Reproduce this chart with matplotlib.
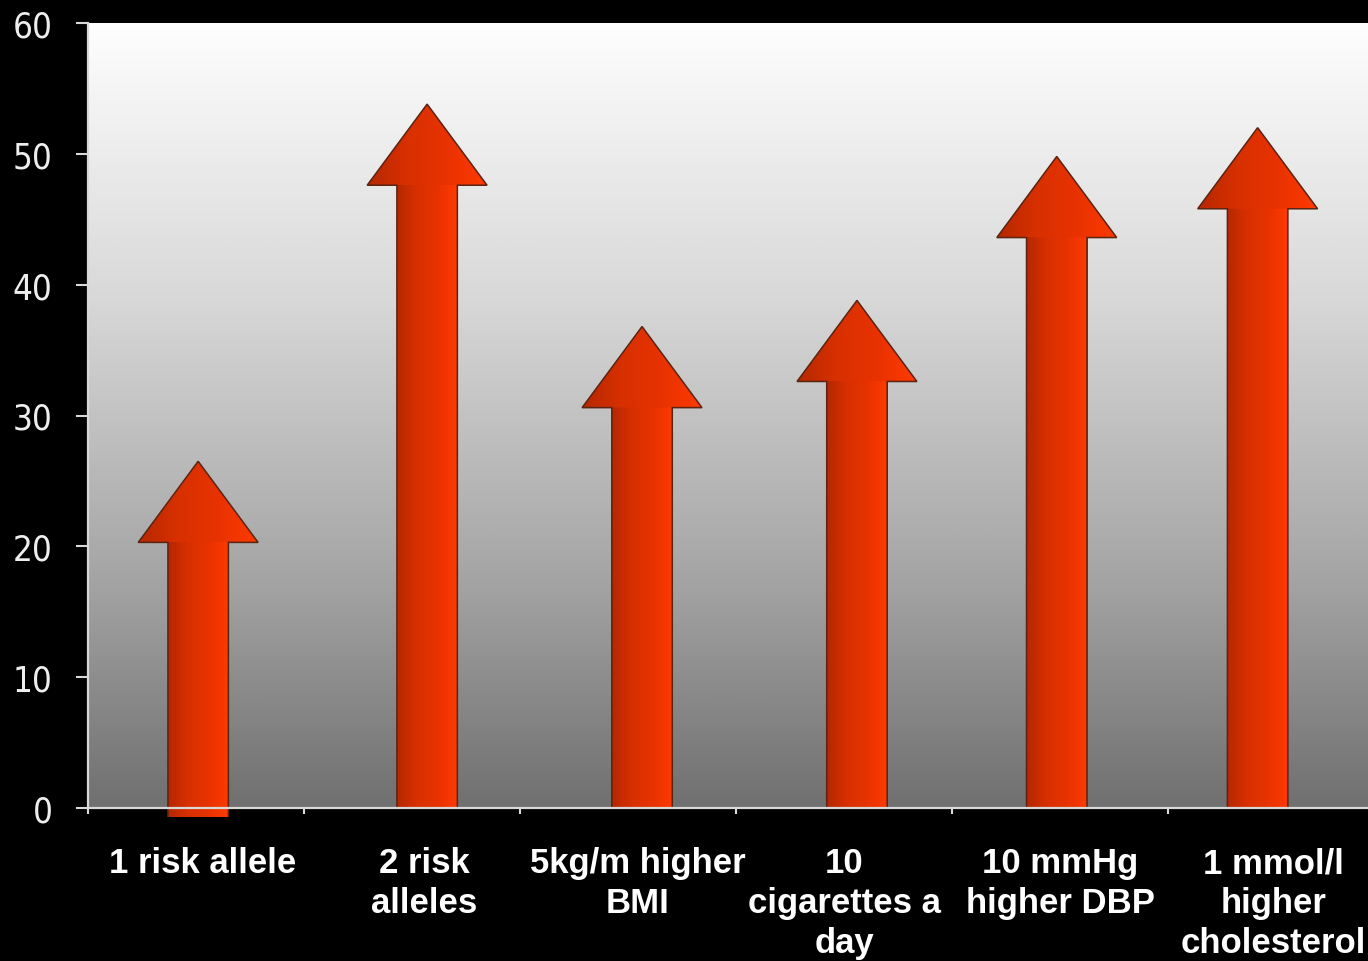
import numpy as np
import matplotlib
matplotlib.use("Agg")
import matplotlib.pyplot as plt
from matplotlib.patches import Polygon, Rectangle
from matplotlib.colors import LinearSegmentedColormap
from matplotlib.transforms import ScaledTranslation

# Data
categories = [
    "1 risk allele",
    "2 risk\nalleles",
    "5kg/m higher\nBMI",
    "10\ncigarettes a\nday",
    "10 mmHg\nhigher DBP",
    "1 mmol/l\nhigher\ncholesterol",
]
# height reached by each arrow tip
arrow_tops = [26.5, 53.8, 36.8, 38.8, 49.8, 52.0]
y_ticks = [0, 10, 20, 30, 40, 50, 60]

# Styling
arrow_shift = [0.01, 0.07, 0.065, 0.06, -0.015, -0.085]   # small horizontal nudges
label_shift_pt = [5, 9, 7, 0, 0, -2]
arrow_base = [-0.7, 0, 0, 0, 0, 0]
shaft_w = 0.28
head_w = 0.555
head_len = 6.2

fig = plt.figure(figsize=(13.68, 9.62), dpi=100, facecolor="black")
ax = fig.add_axes([88 / 1368, 1 - 809 / 962, 1280 / 1368, 785 / 962])
ax.set_facecolor("black")

xmin, xmax = -0.5, -0.5 + 1280 / 216
ymin, ymax = 0, 60

# vertical grey gradient of the plotting area (light at top)
grad = np.linspace(0, 1, 256).reshape(-1, 1)
bg_cmap = LinearSegmentedColormap.from_list(
    "bg", [(0, "#fefefe"), (0.35, "#d8d8d8"), (0.7, "#a6a6a6"), (1, "#707070")])
ax.imshow(grad, cmap=bg_cmap, extent=[xmin, xmax, ymin, ymax], origin="upper",
          aspect="auto", zorder=0, interpolation="bicubic")

arrow_cmap = LinearSegmentedColormap.from_list(
    "arrow", ["#b52800", "#d83000", "#e83200", "#ff3a00"])
hgrad = np.linspace(0, 1, 256).reshape(1, -1)

for i, top in enumerate(arrow_tops):
    xc = i + arrow_shift[i]
    base = arrow_base[i]
    neck = top - head_len
    # shaft (runs slightly into the head to avoid a seam)
    shaft = Rectangle((xc - shaft_w / 2, base), shaft_w, neck - base + 0.6,
                      facecolor="none", edgecolor="none")
    ax.add_patch(shaft)
    im = ax.imshow(hgrad, cmap=arrow_cmap, aspect="auto", zorder=2,
                   extent=[xc - shaft_w / 2, xc + shaft_w / 2, base, neck + 0.6])
    im.set_clip_path(shaft)
    # head
    head = Polygon([(xc - head_w / 2, neck), (xc + head_w / 2, neck), (xc, top)],
                   closed=True, facecolor="none", edgecolor="none")
    ax.add_patch(head)
    im2 = ax.imshow(hgrad, cmap=arrow_cmap, aspect="auto", zorder=2.5,
                    extent=[xc - head_w / 2, xc + head_w / 2, neck, top])
    im2.set_clip_path(head)
    # outline
    outline = Polygon([
        (xc - shaft_w / 2, base), (xc - shaft_w / 2, neck), (xc - head_w / 2, neck),
        (xc, top), (xc + head_w / 2, neck), (xc + shaft_w / 2, neck),
        (xc + shaft_w / 2, base)], closed=False, facecolor="none",
        edgecolor="#5a2412", linewidth=1.1, zorder=3, clip_on=False)
    ax.add_patch(outline)

ax.set_xlim(xmin, xmax)
ax.set_ylim(ymin, ymax)

# axes & ticks
for side in ("top", "right"):
    ax.spines[side].set_visible(False)
for side in ("left", "bottom"):
    ax.spines[side].set_color("#d8d8d8")
    ax.spines[side].set_linewidth(1.6)
    ax.spines[side].set_zorder(4)

ax.set_yticks(y_ticks)
ax.set_yticklabels([str(v) for v in y_ticks])
ax.tick_params(axis="y", direction="out", length=8.6, width=1.5, color="#d8d8d8",
               pad=17, labelcolor="#eeeeee", labelsize=25)
for lab in ax.get_yticklabels():
    lab.set_family(["Liberation Sans Narrow", "DejaVu Sans"])
    lab.set_stretch("condensed")

ax.set_xticks(range(len(categories)))
ax.set_xticklabels(categories)
ax.set_xticks([k - 0.5 for k in range(len(categories))], minor=True)
ax.tick_params(axis="x", which="major", length=0, pad=27.5, labelcolor="white",
               labelsize=25)
ax.tick_params(axis="x", which="minor", direction="out", length=4.3, width=1.5,
               color="#d8d8d8")
for lab, dx in zip(ax.get_xticklabels(), label_shift_pt):
    lab.set_family(["Liberation Sans", "DejaVu Sans"])
    lab.set_fontweight("bold")
    lab.set_linespacing(1.26)
    lab.set_verticalalignment("top")
    lab.set_transform(lab.get_transform() + ScaledTranslation(dx / 72, 0, fig.dpi_scale_trans))

fig.savefig("out.png", dpi=100, facecolor="black")
